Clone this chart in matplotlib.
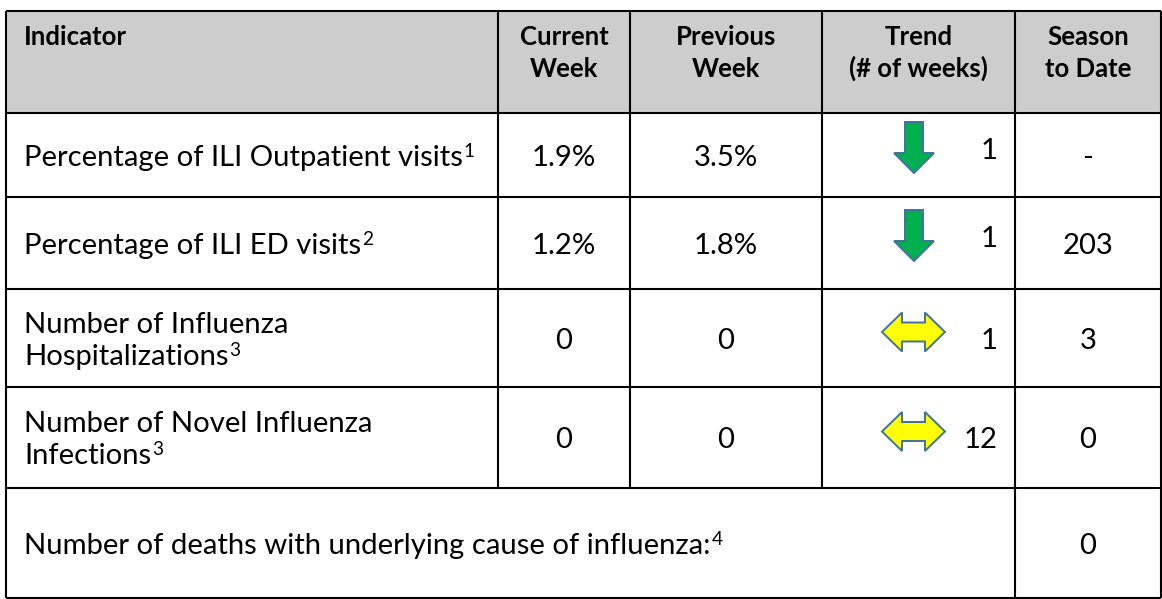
"""
Weekly influenza indicator table, drawn with matplotlib patches and text
"""
import matplotlib.pyplot as plt
from matplotlib.patches import Rectangle, Polygon

plt.rcParams['font.family'] = ['Lato', 'DejaVu Sans']

# table content
headers = ['Indicator', 'Current\nWeek', 'Previous\nWeek', 'Trend\n(# of weeks)', 'Season\nto Date']
indicators = ['Percentage of ILI Outpatient visits',
              'Percentage of ILI ED visits',
              'Number of Influenza\nHospitalizations',
              'Number of Novel Influenza\nInfections']
footnotes = ['1', '2', '3', '3']
current_week = ['1.9%', '1.2%', '0', '0']
previous_week = ['3.5%', '1.8%', '0', '0']
trend_dir = ['down', 'down', 'flat', 'flat']
trend_weeks = ['1', '1', '1', '12']
season_to_date = ['-', '203', '3', '0']
deaths_label = 'Number of deaths with underlying cause of influenza:'
deaths_note = '4'
deaths_season = '0'

# layout in pixels
W, H = 1162, 599
col_x = [6, 498, 630, 822, 1015, 1161]
row_y = [11, 113, 197, 289, 387, 488, 598]
LINE = 32
TXT_X = col_x[0] + 18
header_grey = '#CDCDCD'
edge_blue = '#41719C'

fig = plt.figure(figsize=(W / 100, H / 100), dpi=100)
ax = fig.add_axes([0, 0, 1, 1])
ax.set_xlim(0, W)
ax.set_ylim(H, 0)
ax.axis('off')
rend = fig.canvas.get_renderer()

# size the font so the first label spans the same width as the reference
probe = ax.text(0, 0, indicators[0], fontsize=20)
FS = 20 * 440 / probe.get_window_extent(rend).width
probe.remove()
FS_HEAD = FS * 0.88
CAP = 0.36 * FS * 100 / 72  # half cap height in px

# header band
ax.add_patch(Rectangle((col_x[0], row_y[0]), col_x[-1] - col_x[0], row_y[1] - row_y[0],
                       facecolor=header_grey, edgecolor='none'))


def put_lines(x, yc, text, ha, note=None):
    """write text lines centred vertically on yc, optional superscript on last line"""
    lines = text.split('\n')
    n = len(lines)
    for i, ln in enumerate(lines):
        yb = yc + CAP + (i - (n - 1) / 2) * LINE
        t = ax.text(x, yb, ln, ha=ha, va='baseline', fontsize=FS, color='black')
    if note:
        x_end = ax.transData.inverted().transform(
            (t.get_window_extent(rend).x1, 0))[0]
        ax.text(x_end + 1, yb - 9, note, ha='left', va='baseline', fontsize=FS * 0.65)


# header text (top aligned)
for j, h in enumerate(headers):
    for i, ln in enumerate(h.split('\n')):
        yb = row_y[0] + 34 + i * LINE
        if j == 0:
            ax.text(TXT_X, yb, ln, ha='left', va='baseline', fontsize=FS_HEAD, fontweight='bold')
        else:
            ax.text((col_x[j] + col_x[j + 1]) / 2, yb, ln, ha='center', va='baseline',
                    fontsize=FS_HEAD, fontweight='bold')

# body rows
for i in range(len(indicators)):
    yc = (row_y[i + 1] + row_y[i + 2]) / 2
    put_lines(TXT_X, yc, indicators[i], 'left', footnotes[i])
    put_lines((col_x[1] + col_x[2]) / 2, yc, current_week[i], 'center')
    put_lines((col_x[2] + col_x[3]) / 2, yc, previous_week[i], 'center')
    put_lines((col_x[4] + col_x[5]) / 2, yc, season_to_date[i], 'center')

    # trend arrow and week count
    ax_c = col_x[3] + 92
    if trend_dir[i] == 'down':
        top, tip = yc - 33, yc + 18
        neck = tip - 20
        pts = [(ax_c - 9, top), (ax_c + 9, top), (ax_c + 9, neck), (ax_c + 20, neck),
               (ax_c, tip), (ax_c - 20, neck), (ax_c - 9, neck)]
        ax.add_patch(Polygon(pts, closed=True, facecolor='#00B050', edgecolor=edge_blue, lw=1.4))
        dy = -7
    else:
        cy = yc - 6
        x0, x1 = ax_c - 32, ax_c + 31
        pts = [(x0, cy), (x0 + 20, cy - 19.5), (x0 + 20, cy - 9.5), (x1 - 20, cy - 9.5),
               (x1 - 20, cy - 19.5), (x1, cy), (x1 - 20, cy + 19.5), (x1 - 20, cy + 9.5),
               (x0 + 20, cy + 9.5), (x0 + 20, cy + 19.5)]
        ax.add_patch(Polygon(pts, closed=True, facecolor='#FFFF00', edgecolor=edge_blue, lw=1.4))
        dy = 0
    put_lines(col_x[4] - 17, yc + dy, trend_weeks[i], 'right')

# deaths row (merged cells)
yc = (row_y[5] + row_y[6]) / 2
put_lines(TXT_X, yc, deaths_label, 'left', deaths_note)
put_lines((col_x[4] + col_x[5]) / 2, yc, deaths_season, 'center')

# grid lines
lw = 1.5
ax.hlines(row_y, col_x[0], col_x[-1], colors='black', lw=lw)
ax.vlines([col_x[0], col_x[-1]], row_y[0], row_y[-1], colors='black', lw=lw)
ax.vlines(col_x[1:4], row_y[0], row_y[5], colors='black', lw=lw)
ax.vlines(col_x[4], row_y[0], row_y[-1], colors='black', lw=lw)

fig.savefig('out.png', dpi=100)
